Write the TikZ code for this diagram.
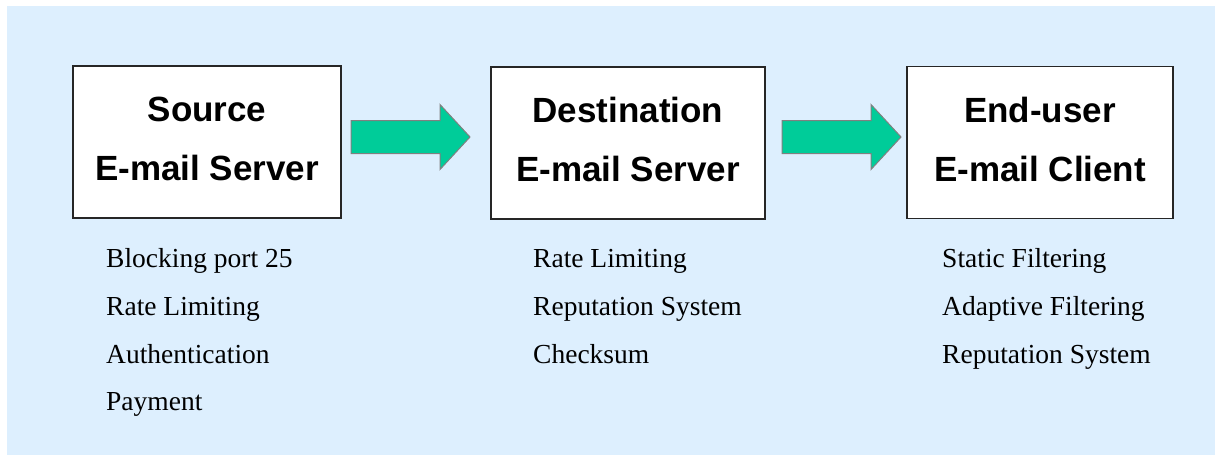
\documentclass[tikz,border=0pt]{standalone}
\usepackage{fontspec}
\setmainfont{Liberation Serif}
\newfontfamily\boxfont{Liberation Sans}
\definecolor{bgblue}{RGB}{221,239,254}
\definecolor{arrowgreen}{RGB}{0,204,153}
\begin{document}
\begin{tikzpicture}[x=1pt,y=-1pt,
  stage/.style={draw=black!85, line width=1.4pt, fill=white, minimum width=#1,
    minimum height=152pt, inner sep=0pt, align=center,
    font=\boxfont\bfseries\fontsize{35}{59}\selectfont, text depth=7pt},
  flow/.style={draw=gray, line width=1pt, fill=arrowgreen, line join=miter},
  item/.style={anchor=base west, inner sep=0pt, font=\fontsize{27.5}{33}\selectfont}]
\useasboundingbox (0,0) rectangle (1215,455);
\fill[white] (0,0) rectangle (1215,455);
\fill[bgblue] (7,6) rectangle (1215,455);
\node[stage=268pt] (src) at (207,142) {Source\\E-mail Server};
\node[stage=274pt] (dst) at (628,143) {Destination\\E-mail Server};
\node[stage=266pt] (cli) at (1040,142.5) {End-user\\E-mail Client};
% block arrow from src to dst
\coordinate (a1) at (351,137);
\draw[flow] (a1) ++(0,-16.5) -- ++(89,0) -- ++(0,-16) -- ++(30,32.5)
  -- ++(-30,32.5) -- ++(0,-16) -- ++(-89,0) -- cycle;
% block arrow from dst to cli
\coordinate (a2) at (782,137);
\draw[flow] (a2) ++(0,-16.5) -- ++(89,0) -- ++(0,-16) -- ++(30,32.5)
  -- ++(-30,32.5) -- ++(0,-16) -- ++(-89,0) -- cycle;
\node[item] (s1) at (106,267) {Blocking port 25};
\node[item] (s2) at (106,315) {Rate Limiting};
\node[item] (s3) at (106,363) {Authentication};
\node[item] (s4) at (106,410) {Payment};
\node[item] (d1) at (533,267) {Rate Limiting};
\node[item] (d2) at (533,315) {Reputation System};
\node[item] (d3) at (533,363) {Checksum};
\node[item] (c1) at (942,267) {Static Filtering};
\node[item] (c2) at (942,315) {Adaptive Filtering};
\node[item] (c3) at (942,363) {Reputation System};
\end{tikzpicture}
\end{document}
